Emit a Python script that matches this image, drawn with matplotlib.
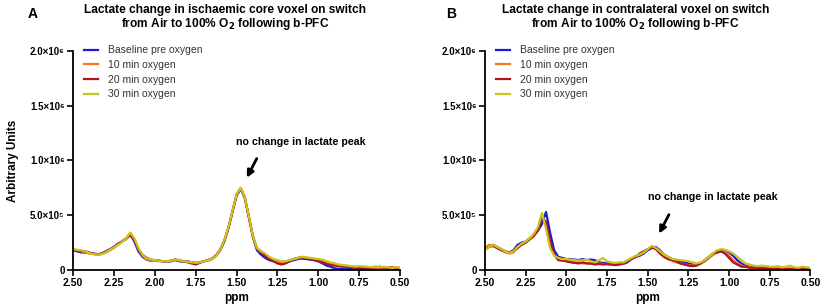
import matplotlib
matplotlib.use("Agg")
import matplotlib.pyplot as plt
import numpy as np

plt.rcParams['font.family'] = ['Liberation Sans', 'DejaVu Sans']

# chemical shift grid (ppm)
ppm = [2.500, 2.475, 2.450, 2.425, 2.400, 2.375, 2.350, 2.325, 2.300, 2.275,
       2.250, 2.225, 2.200, 2.175, 2.150, 2.125, 2.100, 2.075, 2.050, 2.025,
       2.000, 1.975, 1.950, 1.925, 1.900, 1.875, 1.850, 1.825, 1.800, 1.775,
       1.750, 1.725, 1.700, 1.675, 1.650, 1.625, 1.600, 1.575, 1.550, 1.525,
       1.500, 1.475, 1.450, 1.425, 1.400, 1.375, 1.350, 1.325, 1.300, 1.275,
       1.250, 1.225, 1.200, 1.175, 1.150, 1.125, 1.100, 1.075, 1.050, 1.025,
       1.000, 0.975, 0.950, 0.925, 0.900, 0.875, 0.850, 0.825, 0.800, 0.775,
       0.750, 0.725, 0.700, 0.675, 0.650, 0.625, 0.600, 0.575, 0.550, 0.525,
       0.500]

# panel A - ischaemic core voxel (x 1e5)
a_base = [1.8, 1.7, 1.6, 1.6, 1.55, 1.5, 1.4, 1.5, 1.7, 1.9,
          2.1, 2.4, 2.6, 2.9, 3.3, 2.6, 1.7, 1.2, 0.95, 0.85,
          0.9, 0.85, 0.8, 0.75, 0.8, 0.9, 0.8, 0.75, 0.8, 0.7,
          0.65, 0.7, 0.8, 0.9, 1.0, 1.3, 1.8, 2.6, 3.8, 5.3,
          6.8, 7.4, 6.6, 4.8, 3.0, 1.8, 1.4, 1.1, 0.9, 0.8,
          0.8, 0.6, 0.7, 0.8, 0.9, 1.0, 1.05, 1.0, 0.95, 0.9,
          0.8, 0.6, 0.4, 0.3, 0.15, 0.1, 0.1, 0.1, 0.1, 0.1,
          0.1, 0.1, 0.15, 0.1, 0.2, 0.3, 0.2, 0.15, 0.2, 0.1,
          0.1]
a_10 = [1.9, 1.8, 1.7, 1.6, 1.5, 1.45, 1.4, 1.45, 1.6, 1.8,
        2.0, 2.3, 2.6, 2.9, 3.4, 2.8, 1.9, 1.3, 1.0, 0.9,
        0.85, 0.8, 0.8, 0.75, 0.85, 0.95, 0.85, 0.8, 0.75, 0.7,
        0.6, 0.7, 0.8, 0.85, 1.0, 1.3, 1.9, 2.7, 3.9, 5.4,
        6.9, 7.5, 6.7, 4.9, 3.1, 2.0, 1.7, 1.4, 1.1, 0.9,
        0.8, 0.7, 0.75, 0.9, 1.0, 1.1, 1.2, 1.1, 1.1, 1.0,
        0.95, 0.8, 0.7, 0.6, 0.5, 0.4, 0.35, 0.4, 0.3, 0.3,
        0.25, 0.3, 0.2, 0.25, 0.2, 0.3, 0.2, 0.2, 0.15, 0.2,
        0.15]
a_20 = [1.8, 1.8, 1.75, 1.7, 1.6, 1.5, 1.45, 1.5, 1.65, 1.85,
        2.1, 2.35, 2.6, 2.85, 3.2, 2.7, 1.9, 1.4, 1.1, 0.95,
        0.9, 0.85, 0.8, 0.8, 0.85, 0.95, 0.9, 0.8, 0.7, 0.6,
        0.5, 0.65, 0.8, 0.9, 1.05, 1.35, 1.85, 2.65, 3.85, 5.35,
        6.85, 7.45, 6.65, 4.85, 3.05, 1.9, 1.6, 1.3, 1.0, 0.8,
        0.6, 0.5, 0.6, 0.8, 1.0, 1.1, 1.15, 1.1, 1.0, 0.9,
        0.8, 0.7, 0.55, 0.45, 0.4, 0.35, 0.3, 0.3, 0.25, 0.2,
        0.2, 0.25, 0.2, 0.2, 0.3, 0.2, 0.25, 0.2, 0.25, 0.2,
        0.2]
a_30 = [1.9, 1.85, 1.8, 1.7, 1.55, 1.45, 1.4, 1.45, 1.6, 1.85,
        2.05, 2.3, 2.55, 2.9, 3.4, 2.9, 2.0, 1.4, 1.05, 0.95,
        0.9, 0.85, 0.8, 0.8, 0.85, 0.95, 0.9, 0.8, 0.75, 0.7,
        0.65, 0.7, 0.8, 0.9, 1.0, 1.3, 1.85, 2.7, 3.9, 5.4,
        6.9, 7.5, 6.7, 4.9, 3.1, 2.0, 1.7, 1.5, 1.2, 1.0,
        0.9, 0.8, 0.8, 0.9, 1.0, 1.1, 1.2, 1.15, 1.1, 1.05,
        1.0, 0.95, 0.8, 0.7, 0.6, 0.5, 0.45, 0.4, 0.35, 0.3,
        0.35, 0.3, 0.3, 0.25, 0.3, 0.25, 0.3, 0.25, 0.2, 0.25,
        0.2]

# panel B - contralateral voxel (x 1e5)
b_base = [1.9, 2.2, 2.3, 2.1, 1.9, 1.7, 1.6, 1.8, 2.3, 2.5,
          2.6, 2.9, 3.2, 3.6, 4.2, 5.3, 3.4, 1.8, 1.2, 1.1,
          1.0, 1.0, 0.95, 0.9, 1.0, 0.9, 0.95, 0.9, 0.7, 0.65,
          0.6, 0.55, 0.6, 0.6, 0.55, 0.7, 1.0, 1.2, 1.3, 1.5,
          1.8, 2.0, 2.1, 1.8, 1.4, 1.2, 1.0, 0.9, 0.8, 0.7,
          0.6, 0.5, 0.5, 0.6, 0.8, 1.1, 1.4, 1.6, 1.7, 1.8,
          1.6, 1.3, 0.9, 0.6, 0.4, 0.3, 0.3, 0.25, 0.2, 0.2,
          0.15, 0.15, 0.1, 0.1, 0.1, 0.1, 0.1, 0.1, 0.15, 0.1,
          0.1]
b_10 = [2.0, 2.3, 2.2, 2.0, 1.8, 1.6, 1.5, 1.6, 2.1, 2.4,
        2.6, 2.9, 3.3, 3.8, 5.1, 4.0, 2.2, 1.4, 1.0, 0.9,
        0.8, 0.75, 0.7, 0.7, 0.6, 0.6, 0.55, 0.6, 0.6, 0.55,
        0.5, 0.5, 0.45, 0.5, 0.6, 0.8, 1.0, 1.2, 1.4, 1.6,
        1.9, 2.1, 2.0, 1.7, 1.3, 1.0, 0.85, 0.7, 0.6, 0.5,
        0.45, 0.4, 0.45, 0.6, 0.8, 1.1, 1.4, 1.6, 1.7, 1.6,
        1.3, 0.9, 0.6, 0.4, 0.3, 0.25, 0.2, 0.15, 0.15, 0.1,
        0.1, 0.1, 0.15, 0.1, 0.1, 0.1, 0.05, 0.1, 0.1, 0.05,
        0.05]
b_20 = [1.9, 2.1, 2.2, 2.0, 1.8, 1.7, 1.6, 1.7, 2.0, 2.3,
        2.5, 2.8, 3.1, 3.6, 4.8, 4.4, 2.6, 1.4, 0.9, 0.85,
        0.8, 0.7, 0.65, 0.6, 0.7, 0.6, 0.6, 0.5, 0.55, 0.5,
        0.55, 0.5, 0.45, 0.5, 0.6, 0.8, 1.0, 1.2, 1.5, 1.7,
        1.9, 2.05, 1.9, 1.5, 1.2, 1.0, 0.9, 0.8, 0.6, 0.5,
        0.4, 0.35, 0.4, 0.6, 0.9, 1.2, 1.5, 1.6, 1.7, 1.5,
        1.1, 0.7, 0.5, 0.3, 0.3, 0.2, 0.2, 0.2, 0.15, 0.1,
        0.1, 0.1, 0.1, 0.05, 0.1, 0.1, 0.1, 0.15, 0.1, 0.1,
        0.05]
b_30 = [1.8, 2.1, 2.3, 2.1, 1.9, 1.7, 1.55, 1.7, 2.1, 2.4,
        2.6, 2.9, 3.3, 3.9, 5.2, 3.8, 2.0, 1.3, 1.1, 1.0,
        1.0, 0.95, 0.9, 0.85, 0.9, 0.95, 0.8, 0.7, 0.9, 1.1,
        0.8, 0.7, 0.65, 0.7, 0.7, 0.9, 1.1, 1.3, 1.4, 1.6,
        1.9, 2.2, 2.0, 1.7, 1.4, 1.2, 1.0, 0.95, 0.9, 0.85,
        0.8, 0.7, 0.6, 0.7, 0.9, 1.2, 1.5, 1.8, 1.9, 1.85,
        1.7, 1.5, 1.2, 0.9, 0.6, 0.5, 0.4, 0.35, 0.4, 0.35,
        0.3, 0.3, 0.35, 0.25, 0.3, 0.4, 0.25, 0.2, 0.3, 0.25,
        0.2]

labels = ['Baseline pre oxygen', '10 min oxygen', '20 min oxygen', '30 min oxygen']
colors = ['#1c1cd6', '#f47a2a', '#b0141e', '#c8c61e']

y_ticks = [0, 5e5, 1e6, 1.5e6, 2e6]
y_ticklabels = ['0', '5.0×10⁵', '1.0×10⁶', '1.5×10⁶', '2.0×10⁶']
x_ticks = [2.5, 2.25, 2.0, 1.75, 1.5, 1.25, 1.0, 0.75, 0.5]
x_ticklabels = ['2.50', '2.25', '2.00', '1.75', '1.50', '1.25', '1.00', '0.75', '0.50']

fig = plt.figure(figsize=(8.24, 3.08), dpi=100)
ax1 = fig.add_axes([0.0886, 0.1234, 0.397, 0.711])
ax2 = fig.add_axes([0.5886, 0.1234, 0.395, 0.711])

panels = [
    (ax1, [a_base, a_10, a_20, a_30], (1.105, 1.17e6), (1.369, 1.04e6), (1.445, 8.2e5)),
    (ax2, [b_base, b_10, b_20, b_30], (1.098, 6.66e5), (1.362, 5.28e5), (1.438, 3.1e5)),
]

for ax, series, txt_xy, arr_start, arr_end in panels:
    for vals, lab, col in zip(series, labels, colors):
        ax.plot(ppm, np.array(vals) * 1e5, color=col, lw=1.6, label=lab)
    ax.set_xlim(2.5, 0.5)
    ax.set_ylim(0, 2e6)
    ax.set_xticks(x_ticks)
    ax.set_xticklabels(x_ticklabels, fontsize=7.5, fontweight='bold')
    ax.set_yticks(y_ticks)
    ax.set_yticklabels(y_ticklabels, fontsize=7, fontweight='bold')
    for s in ['top', 'right']:
        ax.spines[s].set_visible(False)
    for s in ['left', 'bottom']:
        ax.spines[s].set_linewidth(1.3)
    ax.tick_params(direction='out', length=4, width=1.2, pad=2)
    ax.set_xlabel('ppm', fontsize=8.5, fontweight='bold', labelpad=3)
    leg = ax.legend(loc='upper left', bbox_to_anchor=(0.02, 1.045), frameon=False,
                    fontsize=7.5, handlelength=1.4, handletextpad=0.9,
                    labelspacing=0.45, borderaxespad=0)
    for t in leg.get_texts():
        t.set_color('#333333')
    ax.annotate('', xy=arr_end, xytext=arr_start,
                arrowprops=dict(arrowstyle='-|>', lw=2, color='black', mutation_scale=10))
    ax.text(txt_xy[0], txt_xy[1], 'no change in lactate peak', ha='center', va='center',
            fontsize=7.7, fontweight='bold')

ax1.set_ylabel('Arbitrary Units', fontsize=8.5, fontweight='bold', labelpad=8)

fig.text(0.273, 0.967, 'Lactate change in ischaemic core voxel on switch',
         ha='center', va='center', fontsize=8.6, fontweight='bold')
fig.text(0.273, 0.922, r'from Air to 100% O$_\mathbf{2}$ following b-PFC',
         ha='center', va='center', fontsize=8.6, fontweight='bold')
fig.text(0.771, 0.967, 'Lactate change in contralateral voxel on switch',
         ha='center', va='center', fontsize=8.6, fontweight='bold')
fig.text(0.771, 0.922, r'from Air to 100% O$_\mathbf{2}$ following b-PFC',
         ha='center', va='center', fontsize=8.6, fontweight='bold')
fig.text(0.040, 0.955, 'A', ha='center', va='center', fontsize=10, fontweight='bold')
fig.text(0.548, 0.955, 'B', ha='center', va='center', fontsize=10, fontweight='bold')

fig.savefig('out.png', dpi=100)
